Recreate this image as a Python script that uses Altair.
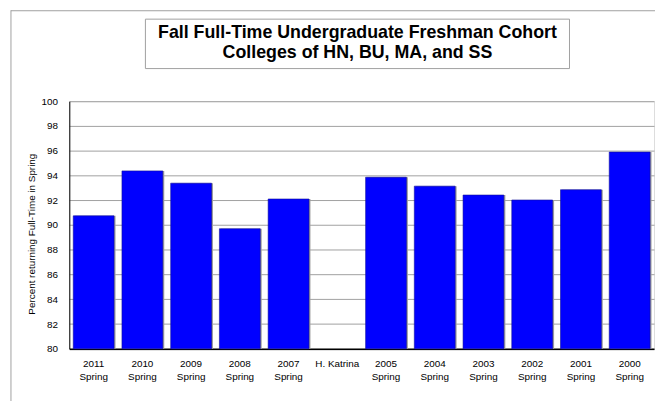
import altair as alt
import pandas as pd

categories = ["2011 Spring", "2010 Spring", "2009 Spring", "2008 Spring", "2007 Spring",
              "H. Katrina", "2005 Spring", "2004 Spring", "2003 Spring", "2002 Spring",
              "2001 Spring", "2000 Spring"]
values = [90.74, 94.37, 93.38, 89.70, 92.10, None, 93.86, 93.14, 92.42, 92.02, 92.85, 95.89]
y_ticks = [80, 82, 84, 86, 88, 90, 92, 94, 96, 98, 100]
title_lines = ["Fall Full-Time Undergraduate Freshman Cohort", "Colleges of HN, BU, MA, and SS"]
y_title = "Percent returning Full-Time in Spring"

df = pd.DataFrame({"term": categories, "pct": values})
one = pd.DataFrame({"k": [0]})

FONT = "Liberation Sans"
W, H = 591.5, 250.5
GRAY = "#a0a0a0"

x_enc = alt.X(
    "term:N", sort=categories,
    scale=alt.Scale(paddingInner=0.162, paddingOuter=0.081),
    axis=alt.Axis(
        title=None, labelAngle=0,
        labelExpr="datum.label == 'H. Katrina' ? datum.label : split(datum.label, ' ')",
        labelFont=FONT, labelFontSize=10, labelLineHeight=13, labelPadding=10,
        labelColor="black", ticks=False, domainColor="black", domainWidth=1.5, grid=False,
    ),
)
y_enc = alt.Y(
    "pct:Q",
    scale=alt.Scale(domain=[80, 100], nice=False, zero=False),
    axis=alt.Axis(
        values=y_ticks, title=y_title, ticks=False, labelPadding=12,
        labelFont=FONT, labelFontSize=10, labelColor="black",
        titleFont=FONT, titleFontSize=10, titleFontWeight="normal", titleColor="black",
        titleAngle=270, titleX=-38, titleY=134, titleAlign="center", titleBaseline="middle",
        domainColor="black", domainWidth=1, gridColor=GRAY, gridWidth=1,
    ),
)

shadow = alt.Chart(df).mark_bar(color=GRAY, xOffset=1.5, yOffset=0).encode(
    x=x_enc, y=y_enc, y2=alt.datum(80)
)
bars = alt.Chart(df).mark_bar(color="#0000ff", stroke="#10109a", strokeWidth=0.6).encode(
    x=x_enc, y=y_enc, y2=alt.datum(80)
)

title_box = alt.Chart(one).mark_rect(fill="white", stroke=GRAY, strokeWidth=1).encode(
    x=alt.value(77), x2=alt.value(506), y=alt.value(-83), y2=alt.value(-33)
)
title_text = alt.Chart(one).mark_text(
    text=title_lines, font=FONT, fontSize=18, fontWeight="bold", lineHeight=20.5,
    align="center", baseline="alphabetic", color="black",
).encode(x=alt.value(291.5), y=alt.value(-64))
frame_left = alt.Chart(one).mark_rule(color=GRAY, strokeWidth=1).encode(
    x=alt.value(-59), y=alt.value(-92), y2=alt.value(320)
)
frame_top = alt.Chart(one).mark_rule(color=GRAY, strokeWidth=1).encode(
    x=alt.value(-59), x2=alt.value(700), y=alt.value(-91.5)
)

chart = alt.layer(frame_left, frame_top, title_box, title_text, shadow, bars).properties(
    width=W, height=H,
    autosize=alt.AutoSizeParams(type="none"),
    padding={"left": 62, "top": 92, "right": 1, "bottom": 50},
).configure_view(stroke=GRAY, strokeWidth=1).configure(background="white")

chart.save("out.html", embed_options={"renderer": "svg", "actions": False})
